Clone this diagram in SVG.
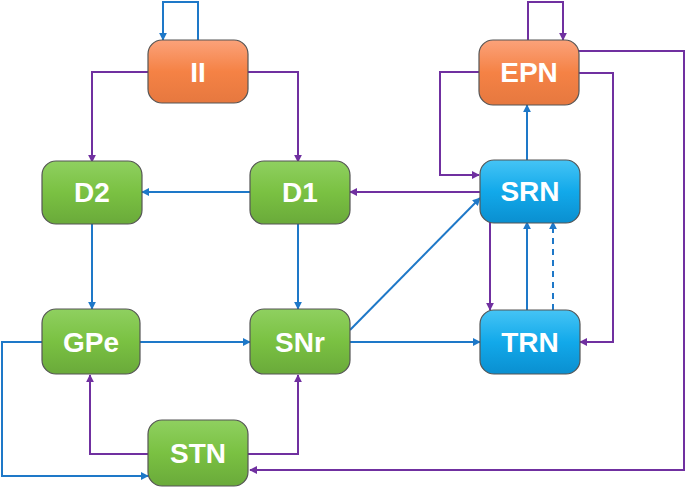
<svg xmlns="http://www.w3.org/2000/svg" width="685" height="488" viewBox="0 0 685 488">
<defs>
<linearGradient id="go" x1="0" y1="0" x2="0" y2="1"><stop offset="0" stop-color="#fba27a"/><stop offset="0.5" stop-color="#f58245"/><stop offset="1" stop-color="#e6783f"/></linearGradient>
<linearGradient id="gg" x1="0" y1="0" x2="0" y2="1"><stop offset="0" stop-color="#8fd060"/><stop offset="0.5" stop-color="#7ac142"/><stop offset="1" stop-color="#6aaa3a"/></linearGradient>
<linearGradient id="gb" x1="0" y1="0" x2="0" y2="1"><stop offset="0" stop-color="#45c4f5"/><stop offset="0.5" stop-color="#12a9ea"/><stop offset="1" stop-color="#0a8fd0"/></linearGradient>
<marker id="ab" viewBox="0 0 10 10" refX="9" refY="5" markerWidth="4" markerHeight="4" orient="auto" markerUnits="strokeWidth"><path d="M0,0L10,5L0,10z" fill="#1e78c8"/></marker>
<marker id="ap" viewBox="0 0 10 10" refX="9" refY="5" markerWidth="4" markerHeight="4" orient="auto" markerUnits="strokeWidth"><path d="M0,0L10,5L0,10z" fill="#7030a0"/></marker>
</defs>
<style>
.n rect{stroke:#555;stroke-width:1.2}
.n text{font-family:"Liberation Sans",Arial,sans-serif;font-weight:bold;font-size:28px;fill:#fff;text-anchor:middle;dominant-baseline:central}
.b{fill:none;stroke:#1e78c8;stroke-width:2;marker-end:url(#ab)}
.p{fill:none;stroke:#7030a0;stroke-width:2;marker-end:url(#ap)}
</style>
<g id="connectors">
<path class="b" d="M198,40V2H163V40"/>
<path class="p" d="M528,40V2H563V40"/>
<path class="p" d="M148,72H92V162"/>
<path class="p" d="M248,72H298V162"/>
<path class="b" d="M250,192H142"/>
<path class="b" d="M92,223V309"/>
<path class="b" d="M298,223V309"/>
<path class="b" d="M140,342H250"/>
<path class="b" d="M350,342H480"/>
<path class="b" d="M350,330L480,198"/>
<path class="p" d="M480,192H350"/>
<path class="p" d="M490,222V310"/>
<path class="b" d="M527,310V222"/>
<path class="b" d="M553,310V222" stroke-dasharray="6,5"/>
<path class="b" d="M527,160V105"/>
<path class="p" d="M479,72H440V175H479"/>
<path class="p" d="M578,73H613V342H580"/>
<path class="p" d="M578,51H684V470H250"/>
<path class="b" d="M42,342H2V476H148"/>
<path class="p" d="M148,454H90V375"/>
<path class="p" d="M248,454H298V375"/>
</g>
<g id="II" class="n"><rect x="148" y="40" width="100" height="63" rx="14" fill="url(#go)"/><text x="198" y="72">II</text></g>
<g id="EPN" class="n"><rect x="479" y="40" width="100" height="65" rx="14" fill="url(#go)"/><text x="529" y="72">EPN</text></g>
<g id="D2" class="n"><rect x="42" y="161" width="100" height="63" rx="14" fill="url(#gg)"/><text x="92" y="192">D2</text></g>
<g id="D1" class="n"><rect x="250" y="161" width="100" height="63" rx="14" fill="url(#gg)"/><text x="300" y="192">D1</text></g>
<g id="SRN" class="n"><rect x="480" y="160" width="100" height="63" rx="14" fill="url(#gb)"/><text x="530" y="191">SRN</text></g>
<g id="GPe" class="n"><rect x="42" y="309" width="98" height="65" rx="14" fill="url(#gg)"/><text x="91" y="342">GPe</text></g>
<g id="SNr" class="n"><rect x="250" y="309" width="100" height="65" rx="14" fill="url(#gg)"/><text x="300" y="342">SNr</text></g>
<g id="TRN" class="n"><rect x="480" y="310" width="100" height="64" rx="14" fill="url(#gb)"/><text x="530" y="342">TRN</text></g>
<g id="STN" class="n"><rect x="148" y="420" width="100" height="66" rx="14" fill="url(#gg)"/><text x="198" y="453">STN</text></g>
</svg>
